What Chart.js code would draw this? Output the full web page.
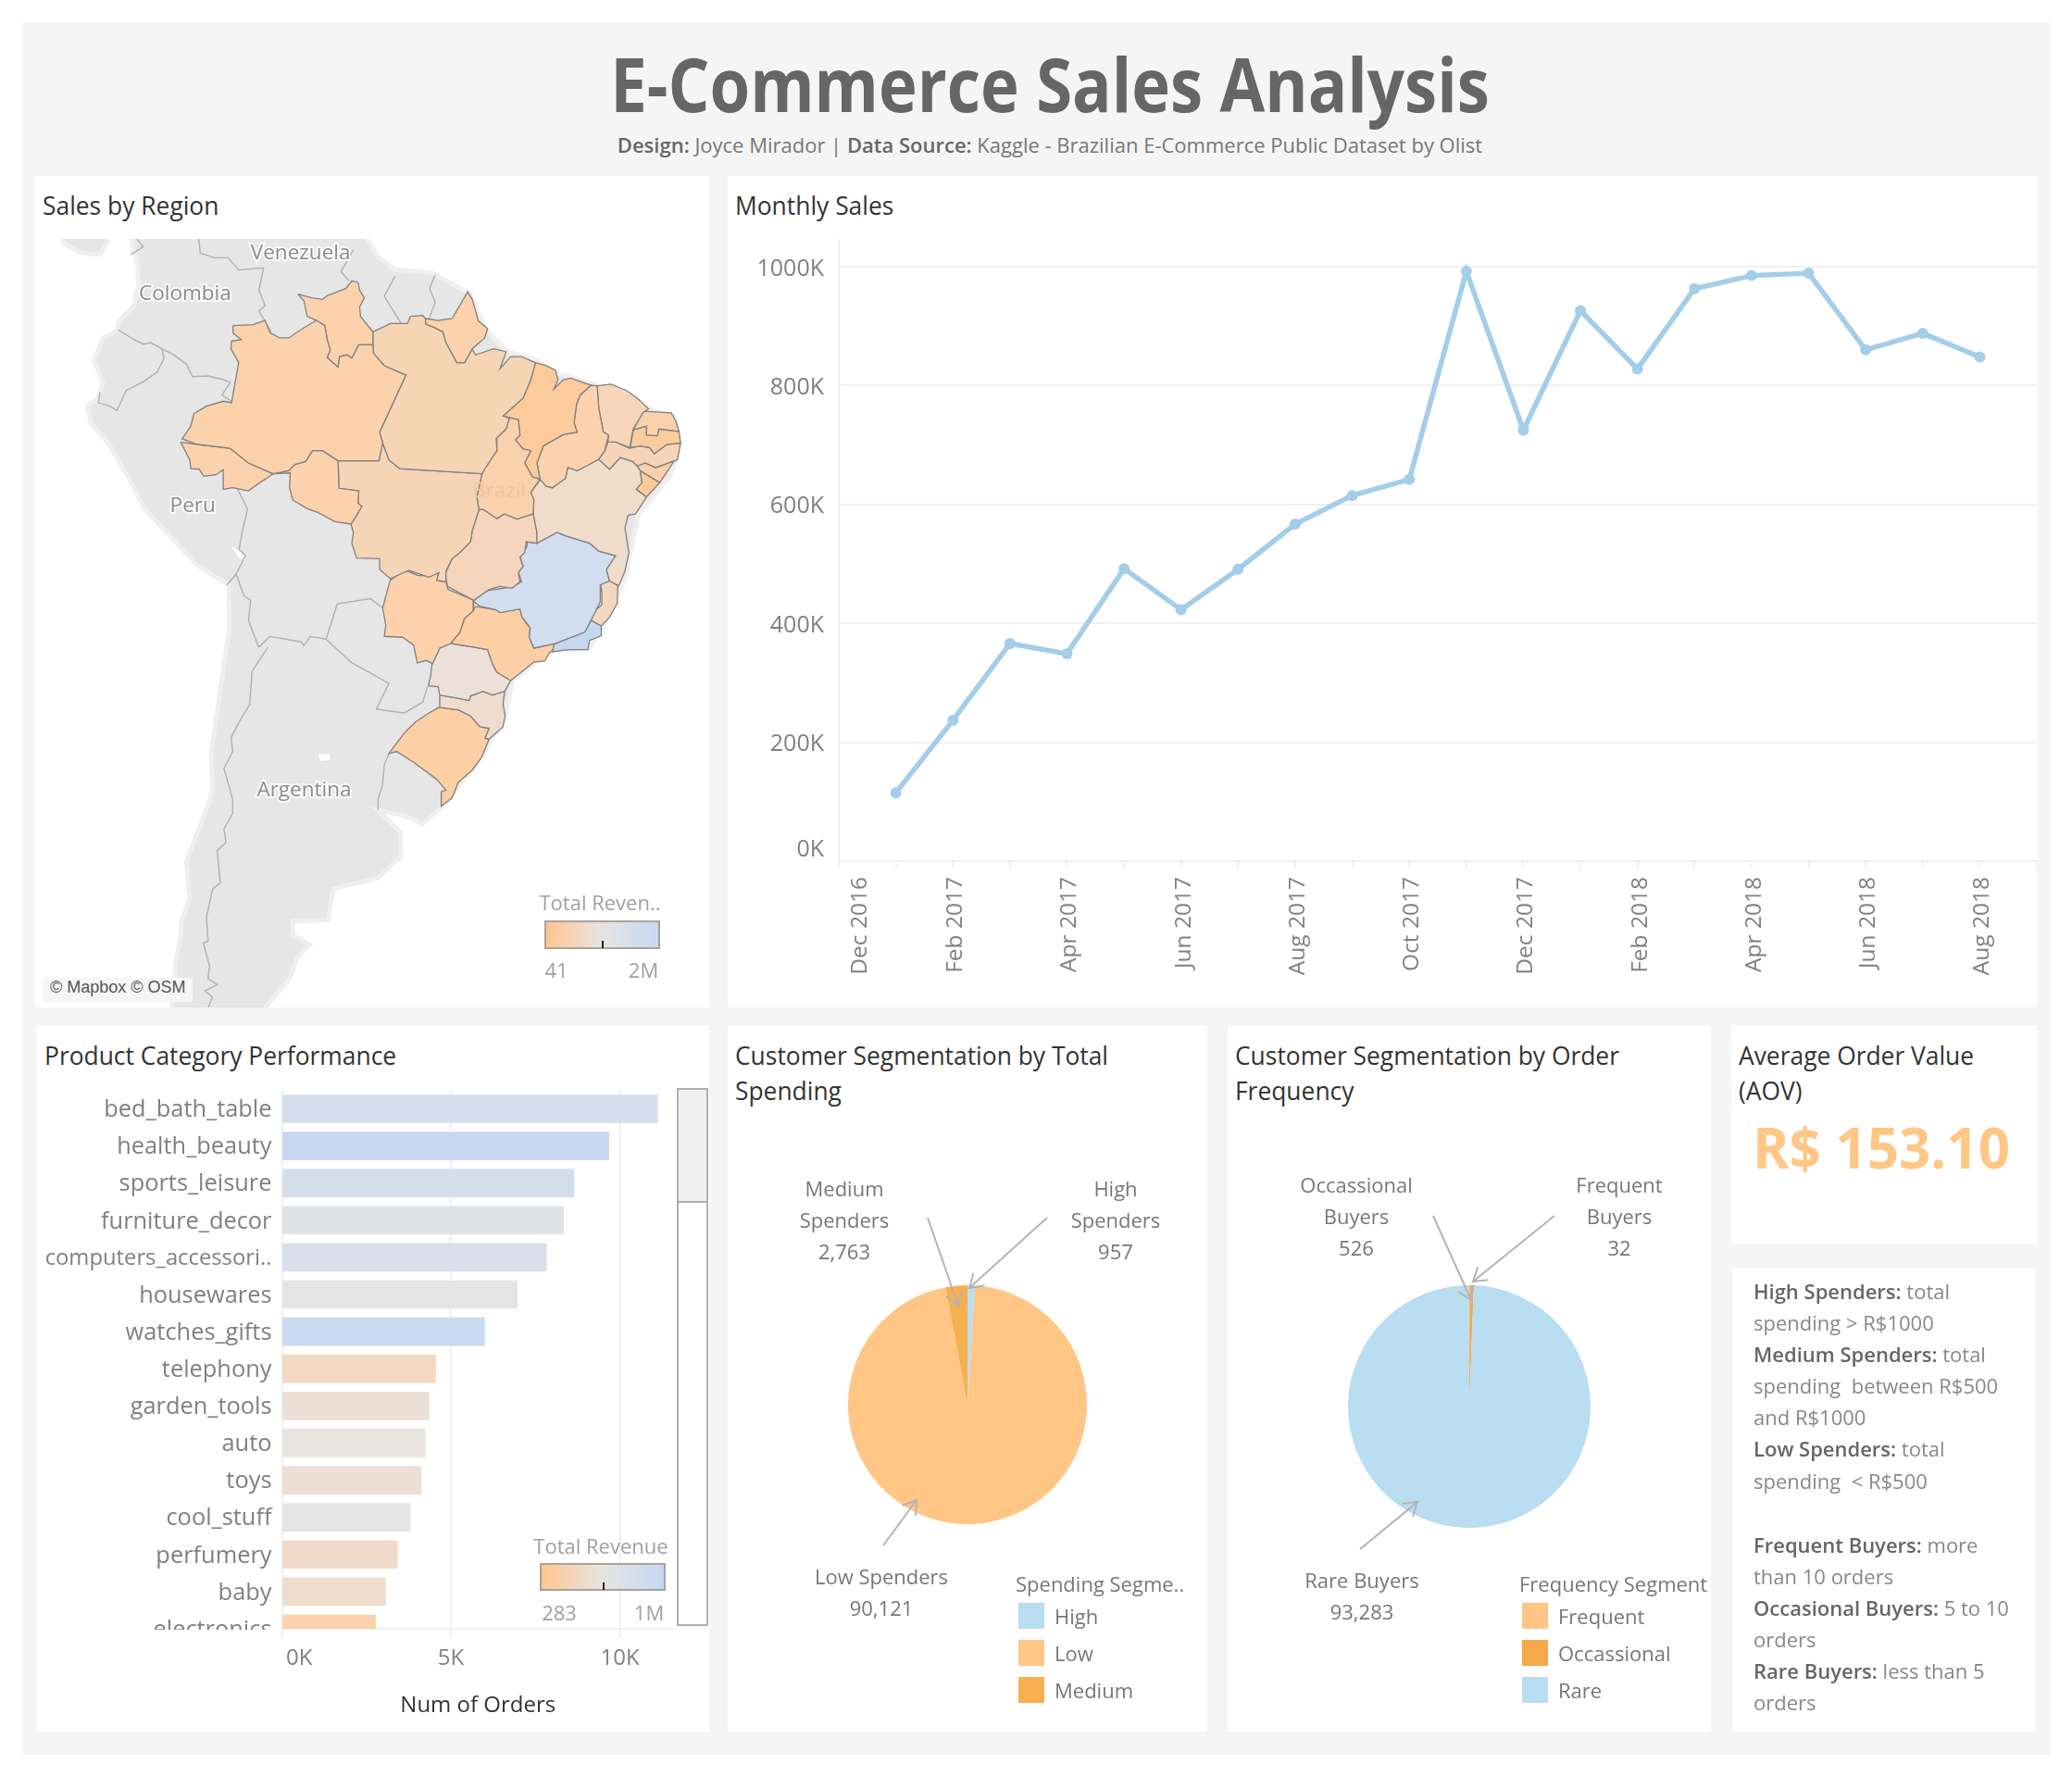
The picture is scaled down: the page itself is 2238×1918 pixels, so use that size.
<!DOCTYPE html>
<html>
<head>
<meta charset="utf-8">
<title>E-Commerce Sales Analysis</title>
<script src="https://cdn.jsdelivr.net/npm/chart.js@4.4.0/dist/chart.umd.min.js"></script>
<style>
  html, body { margin: 0; padding: 0; background: #fff; }
  body { width: 2238px; height: 1918px; position: relative; overflow: hidden; font-family: "Open Sans", sans-serif; color: #777; }
  .abs { position: absolute; }
  .bg { position: absolute; left: 24px; top: 24px; width: 2191px; height: 1871px; background: #f5f5f5; }
  .panel { position: absolute; background: #fff; }
  .ptitle { position: absolute; font-size: 26.4px; line-height: 38px; color: #333; white-space: nowrap; }
  .c { position: absolute; transform: translate(-50%, -50%); white-space: nowrap; text-align: center; }
  .l { position: absolute; transform: translateY(-50%); white-space: nowrap; }
  canvas { position: absolute; display: block; }
  .ann { font-size: 22px; line-height: 34px; color: #777; }
  .leg { font-size: 22px; color: #777; }
  .sw { position: absolute; width: 28px; height: 28px; }
  .ramp { position: absolute; border: 2px solid #a8a29a; box-sizing: border-box; background: linear-gradient(90deg, #ffc58f 0%, #fdcba0 10%, #e6e3e0 48%, #e2e3e5 55%, #c6d8f1 100%); }
  .ramp i { position: absolute; bottom: -1px; width: 2px; height: 8px; background: #222; }
  .grey { color: #a0a0a0; font-size: 22px; }
  #notes div { position: absolute; left: 1894px; font-size: 22px; color: #888; white-space: pre; transform: translateY(-50%); }
  #notes b { color: #666; font-weight: 600; }
</style>
</head>
<body>
<div class="bg"></div>
<div class="c" style="left:1134px;top:89px;font-size:80px;font-weight:700;color:#666;transform:translate(-50%,-50%) scaleX(0.883);">E-Commerce Sales Analysis</div>
<div class="c" style="left:1134px;top:156px;font-size:22px;color:#777;"><b style="color:#666;font-weight:600;">Design:</b> Joyce Mirador | <b style="color:#666;font-weight:600;">Data Source:</b> Kaggle - Brazilian E-Commerce Public Dataset by Olist</div>

<div class="panel" style="left:38px;top:190px;width:728px;height:898px;"></div>
<div class="panel" style="left:786px;top:190px;width:1414px;height:898px;"></div>
<div class="panel" style="left:40px;top:1108px;width:726px;height:762px;"></div>
<div class="panel" style="left:786px;top:1108px;width:518px;height:762px;"></div>
<div class="panel" style="left:1326px;top:1108px;width:522px;height:762px;"></div>
<div class="panel" style="left:1870px;top:1108px;width:330px;height:235px;"></div>
<div class="panel" style="left:1871px;top:1369px;width:327px;height:501px;"></div>

<div class="ptitle" style="left:46px;top:203px;">Sales by Region</div>
<div class="ptitle" style="left:794px;top:203px;">Monthly Sales</div>
<div class="ptitle" style="left:48px;top:1121px;">Product Category Performance</div>
<div class="ptitle" style="left:794px;top:1121px;">Customer Segmentation by Total<br>Spending</div>
<div class="ptitle" style="left:1334px;top:1121px;">Customer Segmentation by Order<br>Frequency</div>
<div class="ptitle" style="left:1878px;top:1121px;">Average Order Value<br>(AOV)</div>

<canvas id="mapChart" width="728" height="830" style="left:38px;top:258px;"></canvas>
<div class="l" style="left:46px;top:1069px;height:26px;line-height:26px;padding:0 8px;width:146px;background:#f6f6f6;font:18px 'Liberation Sans',sans-serif;color:#555;">© Mapbox © OSM</div>
<div class="c grey" style="left:648px;top:974px;">Total Reven..</div>
<div class="ramp" style="left:588px;top:994px;width:125px;height:31px;"><i style="left:60px"></i></div>
<div class="c grey" style="left:601px;top:1047px;">41</div>
<div class="c grey" style="left:695px;top:1047px;">2M</div>

<canvas id="lineChart" width="1414" height="830" style="left:786px;top:258px;"></canvas>

<canvas id="barChart" width="688" height="680" style="left:40px;top:1177px;"></canvas>
<div class="c grey" style="left:649px;top:1669px;">Total Revenue</div>
<div class="ramp" style="left:583px;top:1688px;width:136px;height:30px;"><i style="left:66px"></i></div>
<div class="c grey" style="left:604px;top:1741px;">283</div>
<div class="c grey" style="left:701px;top:1741px;">1M</div>
<div class="abs" style="left:731px;top:1175px;width:34px;height:581px;border:2px solid #b0b0b0;box-sizing:border-box;background:#fff;">
  <div style="height:120px;background:#f0f0f0;border-bottom:2px solid #b0b0b0;"></div>
</div>

<canvas id="pieSpend" width="258" height="258" style="left:916px;top:1388px;"></canvas>
<canvas id="pieFreq" width="262" height="262" style="left:1456px;top:1388px;"></canvas>

<svg class="abs" style="left:0;top:0;" width="2238" height="1918">
  <defs>
    <marker id="arr" markerUnits="userSpaceOnUse" markerWidth="24" markerHeight="24" refX="20" refY="12" orient="auto">
      <path d="M6 3 L20 12 L6 21" fill="none" stroke="#b4b4b4" stroke-width="2"/>
    </marker>
  </defs>
  <g stroke="#b4b4b4" stroke-width="2" fill="none">
    <line x1="1002" y1="1315" x2="1035" y2="1410" marker-end="url(#arr)"/>
    <line x1="1131" y1="1315" x2="1047" y2="1391" marker-end="url(#arr)"/>
    <line x1="954" y1="1669" x2="990" y2="1620" marker-end="url(#arr)"/>
    <line x1="1548" y1="1313" x2="1589" y2="1404" marker-end="url(#arr)"/>
    <line x1="1679" y1="1313" x2="1591" y2="1384" marker-end="url(#arr)"/>
    <line x1="1469" y1="1673" x2="1531" y2="1622" marker-end="url(#arr)"/>
  </g>
</svg>

<div class="c ann" style="left:912px;top:1317px;">Medium<br>Spenders<br>2,763</div>
<div class="c ann" style="left:1205px;top:1317px;">High<br>Spenders<br>957</div>
<div class="c ann" style="left:952px;top:1719px;">Low Spenders<br>90,121</div>
<div class="c ann" style="left:1465px;top:1313px;">Occassional<br>Buyers<br>526</div>
<div class="c ann" style="left:1749px;top:1313px;">Frequent<br>Buyers<br>32</div>
<div class="c ann" style="left:1471px;top:1723px;">Rare Buyers<br>93,283</div>

<div class="l leg" style="left:1097px;top:1710px;">Spending Segme..</div>
<div class="sw" style="left:1100px;top:1731px;background:#b9ddf1;"></div><div class="l leg" style="left:1139px;top:1745px;">High</div>
<div class="sw" style="left:1100px;top:1771px;background:#ffc685;"></div><div class="l leg" style="left:1139px;top:1785px;">Low</div>
<div class="sw" style="left:1100px;top:1811px;background:#f7b04f;"></div><div class="l leg" style="left:1139px;top:1825px;">Medium</div>

<div class="l leg" style="left:1641px;top:1710px;">Frequency Segment</div>
<div class="sw" style="left:1644px;top:1731px;background:#ffc685;"></div><div class="l leg" style="left:1683px;top:1745px;">Frequent</div>
<div class="sw" style="left:1644px;top:1771px;background:#f7a84b;"></div><div class="l leg" style="left:1683px;top:1785px;">Occassional</div>
<div class="sw" style="left:1644px;top:1811px;background:#b9ddf1;"></div><div class="l leg" style="left:1683px;top:1825px;">Rare</div>

<div class="c" style="left:2032px;top:1239px;font-size:60px;font-weight:700;color:#ffc685;">R$ 153.10</div>

<div id="notes">
  <div style="top:1394px"><b>High Spenders:</b> total</div>
  <div style="top:1428px">spending &gt; R$1000</div>
  <div style="top:1462px"><b>Medium Spenders:</b> total</div>
  <div style="top:1496px">spending  between R$500</div>
  <div style="top:1530px">and R$1000</div>
  <div style="top:1564px"><b>Low Spenders:</b> total</div>
  <div style="top:1599px">spending  &lt; R$500</div>
  <div style="top:1668px"><b>Frequent Buyers:</b> more</div>
  <div style="top:1702px">than 10 orders</div>
  <div style="top:1736px"><b>Occasional Buyers:</b> 5 to 10</div>
  <div style="top:1770px">orders</div>
  <div style="top:1804px"><b>Rare Buyers:</b> less than 5</div>
  <div style="top:1838px">orders</div>
</div>

<script>
// monthly sales
const months = ['Dec 2016','Jan 2017','Feb 2017','Mar 2017','Apr 2017','May 2017','Jun 2017','Jul 2017','Aug 2017','Sep 2017','Oct 2017','Nov 2017','Dec 2017','Jan 2018','Feb 2018','Mar 2018','Apr 2018','May 2018','Jun 2018','Jul 2018','Aug 2018','Sep 2018'];
const monthlySales = [null,115,237,366,349,492,423,491,567,615,642,992,725,926,828,963,985,989,860,888,848,null];

// product categories
const categories = ['bed_bath_table','health_beauty','sports_leisure','furniture_decor','computers_accessori..','housewares','watches_gifts','telephony','garden_tools','auto','toys','cool_stuff','perfumery','baby','electronics'];
const numOrders = [11115,9670,8641,8334,7827,6964,5991,4545,4347,4235,4117,3796,3419,3065,2767];
const categoryColors = ['#d3ddee','#c5d7f1','#d4deeb','#e0e3e6','#d9e0eb','#e4e4e4','#c8d9f1','#f3d8c2','#ecdfd5','#e7e3df','#ecdfd5','#e4e4e4','#f2dacb','#f0dccc','#fbd2ab'];

// segments
const spendingSegments = ['High','Low','Medium'];
const spendingCounts = [957,90121,2763];
const frequencySegments = ['Frequent','Occassional','Rare'];
const frequencyCounts = [32,526,93283];

// map rings: [longitude, mercator northing] in degrees
const landMain = [[-78.17,9.5],[-60,9.5],[-58.58,7.19],[-57.17,6.13],[-54.35,5.91],[-52.06,4.64],[-51.36,4.34],[-50.13,1.45],[-48.37,-0.26],[-46.25,-0.89],[-44.49,-1.96],[-41.68,-2.81],[-38.15,-4.51],[-35.34,-5.36],[-34.81,-7.49],[-35.69,-10.04],[-38.15,-13.02],[-39.21,-18.13],[-40.97,-21.96],[-42.03,-23.57],[-44.85,-23.66],[-48.01,-26],[-48.54,-28.77],[-49.77,-30.89],[-51.54,-33.45],[-53.47,-35.91],[-55.06,-37.28],[-56.46,-36.64],[-58.58,-36.21],[-56.82,-37.91],[-56.75,-39.83],[-58.58,-41.53],[-62.1,-42.38],[-62.45,-44.8],[-65.23,-44.92],[-65.23,-46.01],[-63.9,-46.74],[-64.87,-47.7],[-65.47,-49.4],[-67.41,-51.7],[-67.41,-52.5],[-74.79,-52.5],[-74.42,-48.19],[-74.06,-46.25],[-73.94,-44.8],[-73.33,-43.11],[-73.58,-40.21],[-72.37,-37.06],[-71.52,-34.88],[-71.64,-31.74],[-71.28,-29.32],[-70.8,-26],[-70.2,-21.96],[-70.27,-18.55],[-72.66,-17.06],[-76.84,-12.63],[-77.93,-10.45],[-79.63,-7.55],[-81.08,-5.86],[-81.32,-4.53],[-80.59,-4.04],[-80.11,-2.71],[-80.83,-1.02],[-80.11,0.8],[-79.02,1.4],[-78.9,2.13],[-77.69,3.33],[-77.33,5.03],[-77.45,6.72]];
const landPanama = [[-83.74,9.5],[-83.13,8.17],[-81.8,7.45],[-80.35,7.33],[-79.75,8.41],[-80.5,9.5]];
const lakeTiticaca = [[-70.1,-15.5],[-69.4,-15.9],[-68.9,-16.6],[-69.4,-16.5]];
const saltFlat = [[-63.2,-31.85],[-62.4,-31.8],[-62.3,-32.3],[-63.1,-32.35]];

const borderPanCol = [[-77.45,8.56],[-76.96,7.93],[-77.93,7.33]];
const borderColVen = [[-72.61,8.56],[-72.49,7.45],[-71.4,7.08],[-70.31,7.08],[-69.47,6.12],[-67.53,6.29],[-67.89,4.54],[-67.41,3.33],[-67.89,2.9],[-66.92,1.28]];
const borderVenGuy = [[-60.49,7.69],[-61.45,6],[-60.85,5.27]];
const borderGuySur = [[-57.22,5.63],[-58.07,4.06],[-56.74,1.93]];
const borderSurGuf = [[-54.07,5.76],[-54.51,4.67],[-54.07,3.58],[-54.56,2.32]];
const borderColPer = [[-78.95,1.45],[-77.69,0.67],[-76.96,0.31],[-76.36,0.43],[-75.51,-0.05],[-74.54,-0.54],[-73.58,-1.26],[-73.09,-2.23],[-71.88,-2.18],[-70.67,-2.47],[-70.14,-2.67],[-70.79,-3.68],[-70.07,-4.16]];
const borderEcuPer = [[-75.51,-0.05],[-75.32,-0.78],[-75.87,-1.87],[-76.96,-2.64],[-78.29,-3.32],[-79.02,-4.89],[-79.62,-4.53],[-80.47,-4.29],[-80.35,-3.44]];
const borderPerBol = [[-69.56,-11.06],[-68.78,-12.63],[-69.19,-14.32],[-69.44,-15.77],[-68.95,-16.26],[-69.68,-17.71],[-70.4,-18.56]];
const borderBolChi = [[-69.68,-17.71],[-69.07,-19.4],[-68.54,-19.77],[-68.71,-21.34],[-67.91,-23.45]];
const borderBolArg = [[-67.91,-23.45],[-67.03,-22.6],[-64.56,-23.02],[-64.39,-23.32],[-63.86,-22.6],[-62.63,-22.81]];
const borderBolPar = [[-62.63,-22.81],[-61.75,-20.04],[-59.16,-19.64],[-58.19,-20.36]];
const borderParArg = [[-62.63,-22.81],[-60.61,-24.67],[-59.4,-25.32],[-57.71,-26.29],[-58.07,-27.02],[-58.68,-28.3],[-56.5,-28.59],[-55.05,-27.74],[-54.68,-26.53]];
const borderChiArg = [[-67.2,-23.45],[-68.44,-25.36],[-68.61,-27.91],[-69.46,-29.32],[-70.07,-30.53],[-69.95,-31.62],[-70.63,-32.95],[-69.95,-35.37],[-69.95,-36.46],[-70.63,-37.67],[-70.48,-38.75],[-71.16,-39.36],[-70.92,-41.9],[-71.52,-42.38],[-72,-44.56],[-71.88,-46.5],[-72.25,-46.62],[-71.76,-48.43],[-71.88,-49.4],[-71.16,-49.88],[-72.13,-50.37],[-71.52,-50.85],[-71.88,-51.7]];
const borderUryArg = [[-57.71,-31.78],[-58.07,-32.7],[-58.19,-34.15],[-58.55,-35.36],[-58.55,-36.2]];

const stateAM = [[-69.92,1.76],[-68.35,1.84],[-67.43,2.17],[-67.02,1.21],[-66.29,0.8],[-65.56,0.8],[-64.48,1.52],[-63.39,2.17],[-62.73,1.76],[-62.54,0.67],[-62.3,-0.17],[-62.54,-0.73],[-61.69,-1.5],[-61.57,-0.66],[-60.97,-0.53],[-60.61,-0.78],[-60.07,0.26],[-58.96,0.26],[-58.91,-0.41],[-58.07,-1.38],[-56.37,-2.11],[-58.43,-6.58],[-58.19,-7.43],[-58.48,-8.83],[-61.69,-8.83],[-62.9,-8.03],[-63.7,-8.03],[-64.23,-8.88],[-65.08,-9.12],[-65.57,-9.61],[-66.77,-9.85],[-68.71,-9],[-70.16,-7.84],[-72.7,-7.55],[-73.91,-7.11],[-73.23,-6.1],[-72.99,-5.13],[-71.98,-4.53],[-70.65,-4.16],[-70.04,-4.28],[-69.48,-1.14],[-70.09,-0.05],[-70.04,0.55],[-69.27,0.67],[-69.92,1.16]];
const stateAC = [[-74.03,-7.36],[-72.7,-7.55],[-70.16,-7.84],[-68.71,-9],[-66.77,-9.85],[-67.86,-10.57],[-68.71,-11.18],[-69.92,-10.94],[-70.69,-11.06],[-70.69,-9.53],[-71.25,-9.92],[-72.22,-10.04],[-72.58,-9.49],[-73.23,-9.44],[-73.31,-8.76]];
const stateRO = [[-66.77,-9.85],[-65.57,-9.61],[-65.08,-9.12],[-64.23,-8.88],[-63.7,-8.03],[-62.9,-8.03],[-61.69,-8.83],[-61.62,-10.98],[-60.07,-11.18],[-60.12,-12.15],[-59.83,-12.39],[-60.24,-13.11],[-60.68,-13.79],[-61.94,-13.6],[-63.27,-12.87],[-64.11,-12.58],[-65.25,-11.9],[-65.49,-10.94],[-65.44,-9.78]];
const stateRR = [[-64.84,4.23],[-63.75,3.94],[-62.9,3.82],[-62.54,4.11],[-61.09,4.67],[-60.61,5.27],[-60.12,5.15],[-60,4.55],[-59.64,3.94],[-60,3.22],[-59.93,2.49],[-58.96,1.28],[-58.96,0.26],[-60.07,0.26],[-60.61,-0.78],[-60.97,-0.53],[-61.57,-0.66],[-61.69,-1.5],[-62.54,-0.73],[-62.3,-0.17],[-62.54,0.67],[-62.73,1.76],[-63.39,2.17],[-64.11,2.49],[-64.36,3.7]];
const stateAP = [[-54.85,2.32],[-53.83,2.17],[-52.74,2.32],[-51.53,4.42],[-51.17,3.82],[-50.69,2.13],[-49.96,1.52],[-50.2,0.8],[-51.17,-0.05],[-51.78,-1.14],[-52.38,-1.14],[-53.23,0.43],[-53.47,1.28],[-54.2,1.64],[-54.8,1.88]];
const statePA = [[-58.96,1.28],[-57.58,1.93],[-56.25,1.93],[-56.01,2.49],[-55.04,2.56],[-54.85,2.32],[-54.8,1.88],[-54.2,1.64],[-53.47,1.28],[-53.23,0.43],[-52.38,-1.14],[-51.78,-1.14],[-51.17,-0.05],[-50.93,-0.53],[-49.48,-0.05],[-48.51,-0.29],[-49,-1.62],[-48.15,-0.66],[-47.31,-0.66],[-46.22,-1.14],[-46.58,-2.47],[-47.19,-3.92],[-48.76,-5.32],[-48.27,-5.49],[-48.52,-6.34],[-49.29,-7.07],[-49.24,-8.03],[-50.21,-9.49],[-50.4,-9.85],[-56.86,-9.44],[-57.7,-8.76],[-58.19,-7.43],[-58.43,-6.58],[-56.37,-2.11],[-58.07,-1.38],[-58.91,-0.41],[-58.96,0.26]];
const stateMT = [[-61.69,-8.83],[-58.48,-8.83],[-58.19,-7.43],[-57.7,-8.76],[-56.86,-9.44],[-50.4,-9.85],[-50.81,-11.66],[-50.65,-12.68],[-51.18,-14.32],[-51.3,-15.17],[-52.27,-16.14],[-52.75,-16.5],[-53.23,-17.47],[-53.23,-18.31],[-53.96,-18.19],[-53.79,-17.59],[-54.56,-17.95],[-56.14,-17.42],[-57.59,-18.07],[-58.43,-17.35],[-58.43,-16.5],[-60.24,-16.45],[-60.61,-15.29],[-60.49,-14.44],[-60.68,-13.79],[-60.24,-13.11],[-59.83,-12.39],[-60.12,-12.15],[-60.07,-11.18],[-61.62,-10.98]];
const stateTO = [[-48.76,-5.32],[-47.55,-5.61],[-47.43,-6.82],[-47.79,-7.19],[-47.19,-7.91],[-46.58,-8.03],[-47.06,-9],[-46.46,-10.09],[-45.86,-10.28],[-46.58,-11.3],[-46.34,-11.9],[-46.39,-12.99],[-47.67,-13.4],[-48.64,-12.99],[-49.24,-13.35],[-50.33,-12.63],[-50.65,-12.68],[-50.81,-11.66],[-50.4,-9.85],[-50.21,-9.49],[-49.24,-8.03],[-49.29,-7.07],[-48.52,-6.34],[-48.27,-5.49]];
const stateMA = [[-46.22,-1.14],[-45.37,-1.38],[-44.65,-1.74],[-44.45,-2.47],[-44.77,-3.2],[-44.04,-2.47],[-43.44,-2.35],[-41.86,-2.91],[-42.71,-3.68],[-43,-4.41],[-43.19,-5.86],[-42.95,-6.58],[-44.04,-6.78],[-45.61,-7.67],[-46.1,-9],[-45.86,-10.28],[-46.46,-10.09],[-47.06,-9],[-46.58,-8.03],[-47.19,-7.91],[-47.79,-7.19],[-47.43,-6.82],[-47.55,-5.61],[-48.76,-5.32],[-47.19,-3.92],[-46.58,-2.47]];
const statePI = [[-41.86,-2.91],[-41.38,-2.95],[-41.26,-4.65],[-40.9,-6.58],[-40.49,-6.82],[-40.78,-8.03],[-41.26,-8.71],[-42.23,-9.24],[-42.95,-9.61],[-43.68,-9.36],[-43.87,-10.21],[-44.89,-10.94],[-45.37,-10.82],[-45.86,-10.28],[-46.1,-9],[-45.61,-7.67],[-44.04,-6.78],[-42.95,-6.58],[-43.19,-5.86],[-43,-4.41],[-42.71,-3.68]];
const stateCE = [[-41.38,-2.95],[-40.29,-2.83],[-39.08,-3.32],[-38.24,-3.92],[-37.34,-4.77],[-37.75,-5.01],[-38.55,-6.34],[-38.84,-7.79],[-39.93,-7.36],[-40.53,-7.36],[-40.49,-6.82],[-40.9,-6.58],[-41.26,-4.65]];
const stateRN = [[-37.75,-4.94],[-35.57,-5.08],[-35.21,-5.73],[-34.97,-6.53],[-36.54,-6.34],[-36.66,-6.87],[-37.51,-6.82],[-37.51,-6.1],[-38.55,-6.39]];
const statePB = [[-38.55,-6.39],[-37.51,-6.1],[-37.51,-6.82],[-36.66,-6.87],[-36.54,-6.34],[-34.97,-6.53],[-34.85,-7.43],[-35.94,-7.55],[-36.9,-8.28],[-37.27,-7.79],[-38,-7.67],[-38.79,-7.79]];
const statePE = [[-40.53,-7.36],[-39.93,-7.36],[-38.84,-7.84],[-38,-7.67],[-37.27,-7.79],[-36.9,-8.28],[-35.94,-7.55],[-34.85,-7.43],[-35.09,-8.76],[-35.33,-8.83],[-36.78,-9.36],[-37.63,-9],[-38.24,-9.24],[-38.6,-8.88],[-39.57,-8.57],[-40.41,-9.49],[-41.26,-8.71],[-40.78,-8.03]];
const stateAL = [[-38.24,-9.24],[-37.63,-9],[-36.78,-9.36],[-35.33,-8.83],[-36.47,-10.53],[-38,-9.61]];
const stateSE = [[-38,-9.61],[-36.47,-10.53],[-37.51,-11.66],[-38.31,-11.06],[-37.87,-10.57]];
const stateBA = [[-45.81,-10.28],[-45.37,-10.82],[-44.89,-10.94],[-43.87,-10.21],[-43.68,-9.36],[-42.95,-9.61],[-42.23,-9.24],[-41.26,-8.71],[-40.41,-9.49],[-39.57,-8.57],[-38.6,-8.88],[-38.24,-9.24],[-38,-9.61],[-37.87,-10.57],[-38.31,-11.06],[-37.51,-11.66],[-38.36,-12.99],[-38.96,-13.11],[-39.2,-14.08],[-38.89,-16.02],[-39.2,-17.47],[-39.69,-18.63],[-40.41,-18.24],[-40.65,-17.35],[-39.93,-16.26],[-41.26,-15.9],[-41.98,-15.29],[-43.92,-14.69],[-44.52,-14.44],[-46.1,-15.29],[-46.1,-14.44],[-46.39,-12.99],[-46.34,-11.9],[-46.58,-11.3]];
const stateGO = [[-50.65,-12.68],[-50.33,-12.63],[-49.24,-13.35],[-48.64,-12.99],[-47.67,-13.4],[-46.39,-12.99],[-46.1,-14.44],[-46.1,-15.29],[-46.94,-15.17],[-47.06,-16.02],[-47.43,-16.38],[-47.19,-17.11],[-47.55,-17.59],[-47.43,-18.31],[-48.03,-18.8],[-49,-18.68],[-49.85,-18.92],[-51.06,-19.77],[-53.11,-18.68],[-53.3,-17.71],[-52.75,-16.5],[-52.27,-16.14],[-51.3,-15.17],[-51.18,-14.32]];
const stateDF = [[-48.27,-15.7],[-47.43,-15.7],[-47.43,-16.26],[-48.35,-16.26]];
const stateMG = [[-46.1,-15.29],[-44.52,-14.44],[-43.92,-14.69],[-41.98,-15.29],[-41.26,-15.9],[-39.93,-16.26],[-40.65,-17.35],[-40.41,-18.24],[-41.14,-18.56],[-41.14,-19.89],[-41.86,-21.33],[-42.35,-22.25],[-44.64,-23.15],[-46.34,-23.51],[-46.7,-22.66],[-46.63,-21.94],[-47.26,-21.09],[-47.43,-20.44],[-48.99,-20.73],[-49.36,-20.49],[-50.57,-20.24],[-51.1,-19.83],[-50.21,-19.03],[-49.36,-18.91],[-48.03,-18.72],[-47.31,-18.31],[-47.55,-17.58],[-47.19,-17.1],[-47.43,-16.25],[-46.94,-15.65],[-46.82,-15.16]];
const stateES = [[-41.14,-18.31],[-40.41,-18.19],[-39.76,-18.62],[-39.81,-20],[-40.41,-21.09],[-41.06,-21.77],[-41.86,-21.33],[-41.62,-20.61],[-41.01,-20.12],[-41.01,-19.16]];
const stateRJ = [[-41.86,-21.33],[-41.06,-21.77],[-41.06,-22.54],[-41.98,-22.91],[-42.1,-23.63],[-43.68,-23.63],[-44.89,-23.8],[-44.77,-23.27],[-44.64,-23.15],[-42.35,-22.25]];
const stateSP = [[-50.93,-20.24],[-49.36,-20.49],[-48.99,-20.73],[-47.43,-20.44],[-47.26,-21.09],[-46.63,-21.94],[-46.7,-22.66],[-46.34,-23.51],[-44.64,-23.15],[-44.28,-23.32],[-45.13,-23.87],[-45.49,-24.53],[-46.34,-24.6],[-48.15,-26.05],[-49.24,-25.4],[-49.6,-24.72],[-49.97,-23.63],[-51.3,-23.39],[-52.87,-23.15],[-52.14,-22.3],[-51.78,-21.21],[-51.1,-20.61]];
const stateMS = [[-57.59,-18.19],[-56.86,-17.66],[-56.26,-17.46],[-55.41,-17.83],[-54.68,-17.83],[-53.89,-17.51],[-53.79,-18.24],[-53.23,-18.31],[-53.06,-18.91],[-51.05,-19.76],[-51.1,-20.61],[-51.78,-21.21],[-52.14,-22.3],[-52.87,-23.15],[-53.72,-23.51],[-54.27,-24.72],[-54.8,-24.48],[-55.48,-24.67],[-55.77,-23.27],[-56.62,-22.66],[-58.07,-22.59],[-57.95,-21.7],[-58.19,-20.36],[-57.71,-18.55]];
const statePR = [[-52.87,-23.15],[-51.3,-23.39],[-49.97,-23.63],[-49.6,-24.72],[-49.24,-25.4],[-48.15,-26.05],[-48.63,-26.9],[-49.6,-27.19],[-50.33,-26.9],[-51.3,-27.26],[-51.42,-27.62],[-52.38,-27.43],[-53.72,-27.19],[-53.84,-26.53],[-54.61,-26.46],[-54.44,-25.69],[-54.32,-24.72],[-53.72,-23.51]];
const stateSC = [[-53.72,-27.19],[-52.38,-27.43],[-51.42,-27.62],[-51.3,-27.26],[-50.33,-26.9],[-49.6,-27.19],[-48.63,-26.9],[-48.76,-27.86],[-48.59,-28.83],[-48.76,-29.68],[-49.85,-30.65],[-50.16,-30.57],[-49.85,-29.8],[-50.57,-29.68],[-51.3,-28.83],[-52.26,-28.35],[-53.79,-28.15]];
const stateRS = [[-53.79,-28.15],[-52.26,-28.35],[-51.3,-28.83],[-50.57,-29.68],[-49.85,-29.8],[-50.16,-30.57],[-49.85,-30.65],[-50.45,-32.1],[-51.18,-33.07],[-52.26,-34.03],[-52.75,-35.24],[-53.6,-35.9],[-53.6,-34.76],[-53.23,-34.64],[-53.96,-33.79],[-55.77,-32.46],[-57.1,-31.61],[-57.71,-31.78],[-56.5,-30.16],[-55.65,-29.32],[-54.56,-28.59]];

const countryNames = ['Venezuela','Colombia','Peru','Argentina'];
const countryLabelAt = [[-64.63,7.43],[-73.68,4.2],[-73.08,-12.36],[-64.35,-34.64]];

const borderLines = [borderPanCol,borderColVen,borderVenGuy,borderGuySur,borderSurGuf,borderColPer,borderEcuPer,borderPerBol,borderBolChi,borderBolArg,borderBolPar,borderParArg,borderChiArg,borderUryArg];
const stateRings = [stateAM,stateAC,stateRO,stateRR,stateAP,statePA,stateMT,stateTO,stateMA,statePI,stateCE,stateRN,statePB,statePE,stateAL,stateSE,stateBA,stateGO,stateDF,stateMG,stateES,stateRJ,stateSP,stateMS,statePR,stateSC,stateRS];
const stateColors = ['#fbd2ab','#fbd2ab','#fbd2ab','#fbd2ab','#fbd2ab','#f6d5b5','#f6d4b6','#f9d1aa','#fdcb9b','#fad2ad','#f7d5b8','#f9d2ad','#fdcc9e','#f7d4b7','#f9d0a9','#fdca98','#f0dccb','#f5d6bc','#f5d6bc','#d2deef','#f4d7bf','#c6d8f0','#fdcfa4','#fcd1ab','#ece0d8','#efdccf','#fdcfa4'];

const FONT = '"Open Sans", sans-serif';
const TICK = '#808080';
const GRID = '#f0f0f0';

Chart.defaults.font.family = FONT;
Chart.defaults.animation = false;
Chart.defaults.responsive = false;
Chart.defaults.plugins.legend.display = false;
Chart.defaults.plugins.tooltip.enabled = false;

// ---------- map ----------
function ringSet(ring, fillColor, line, width) {
  return {
    data: ring.concat([ring[0]]).map(p => ({ x: p[0], y: p[1] })),
    showLine: true, fill: 'shape', backgroundColor: fillColor,
    borderColor: line, borderWidth: width, pointRadius: 0, tension: 0
  };
}
function lineSet(pts) {
  return {
    data: pts.map(p => ({ x: p[0], y: p[1] })),
    showLine: true, fill: false, borderColor: '#b0b0b0', borderWidth: 1.4, pointRadius: 0, tension: 0
  };
}
// first dataset is painted last, states stay on top of the land
const mapSets = []
  .concat(stateRings.map((r, i) => ringSet(r, stateColors[i], '#808080', 1.3)))
  .concat(borderLines.map(lineSet))
  .concat([ringSet(lakeTiticaca, '#ffffff', '#ffffff', 0), ringSet(saltFlat, '#ffffff', '#ffffff', 0)])
  .concat([ringSet(landPanama, '#e6e6e6', '#efefef', 5), ringSet(landMain, '#e6e6e6', '#efefef', 5)]);

const mapLabels = {
  id: 'mapLabels',
  afterDatasetsDraw(chart) {
    const { ctx, scales } = chart;
    ctx.save();
    ctx.font = '22.5px ' + FONT;
    ctx.textAlign = 'center';
    ctx.textBaseline = 'middle';
    countryNames.forEach((n, i) => {
      const x = scales.x.getPixelForValue(countryLabelAt[i][0]);
      const y = scales.y.getPixelForValue(countryLabelAt[i][1]);
      ctx.lineWidth = 4;
      ctx.strokeStyle = 'rgba(255,255,255,0.75)';
      ctx.strokeText(n, x, y);
      ctx.fillStyle = '#8c8c8c';
      ctx.fillText(n, x, y);
    });
    ctx.fillStyle = '#efc6a4';
    ctx.fillText('Brazil', scales.x.getPixelForValue(-49.07), scales.y.getPixelForValue(-11.23));
    ctx.restore();
  }
};

new Chart(document.getElementById('mapChart'), {
  type: 'scatter',
  data: { datasets: mapSets },
  plugins: [mapLabels],
  options: {
    events: [],
    layout: { padding: 0, autoPadding: false },
    scales: {
      x: { type: 'linear', min: -85.43, max: -32.6, display: false },
      y: { type: 'linear', min: -51.67, max: 8.56, display: false }
    }
  }
});

// ---------- monthly sales ----------
new Chart(document.getElementById('lineChart'), {
  type: 'line',
  data: {
    labels: months,
    datasets: [{
      data: monthlySales, borderColor: '#a3cde9', backgroundColor: '#a3cde9',
      borderWidth: 5.5, pointRadius: 6, pointBorderWidth: 0, tension: 0, spanGaps: false
    }]
  },
  options: {
    events: [],
    layout: { padding: 0, autoPadding: false },
    scales: {
      x: {
        offset: false,
        grid: { drawOnChartArea: false, color: GRID, lineWidth: 2, tickLength: 8 },
        border: { color: GRID, width: 2 },
        afterFit(s) { s.height = 158; s.paddingLeft = 0; s.paddingRight = 0; },
        ticks: {
          autoSkip: false, minRotation: 90, maxRotation: 90, padding: 9, color: TICK, labelOffset: 3,
          font: { size: 24.5, lineHeight: 0.8 },
          callback(v, i) {
            if (i === 0) return ['', months[0]];
            return i % 2 === 0 && i < 21 ? months[i] : '';
          }
        }
      },
      y: {
        min: 0, max: 1046.7,
        grid: { color: GRID, lineWidth: 2, drawTicks: false },
        border: { color: GRID, width: 2 },
        afterFit(s) { s.width = 120; s.paddingTop = 0; s.paddingBottom = 0; },
        afterBuildTicks(s) { s.ticks = [0,200,400,600,800,1000].map(v => ({ value: v })); },
        ticks: {
          padding: 16, color: TICK, font: { size: 25 }, labelOffset: 2.5,
          callback: v => (v === 0 ? ['0K', ''] : v + 'K')
        }
      }
    }
  }
});

// ---------- categories ----------
const cutLabel = {
  id: 'cutLabel',
  afterDraw(chart) {
    // the list is scrolled: the last row is cut at the bottom of the plot
    const { ctx, chartArea } = chart;
    ctx.save();
    ctx.fillStyle = '#fff';
    ctx.fillRect(0, chartArea.bottom + 1, chartArea.left - 2, 30);
    ctx.restore();
  }
};

new Chart(document.getElementById('barChart'), {
  type: 'bar',
  data: {
    datasets: [{
      data: numOrders.map((v, i) => ({ x: v, y: i })),
      backgroundColor: categoryColors, barThickness: 30
    }]
  },
  plugins: [cutLabel],
  options: {
    events: [],
    indexAxis: 'y',
    layout: { padding: 0, autoPadding: false },
    scales: {
      y: {
        type: 'linear', reverse: true, offset: false, min: -0.51, max: 14,
        grid: { display: false },
        border: { color: GRID, width: 2 },
        afterFit(s) { s.width = 264.5; s.paddingTop = 0; s.paddingBottom = 0; },
        afterBuildTicks(s) { s.ticks = categories.map((c, i) => ({ value: i })); },
        ticks: {
          autoSkip: false, padding: 3, color: TICK, labelOffset: 1.5,
          font: ctx => ({ size: ctx.index === 4 ? 23.8 : 25.4 }),
          callback: v => categories[v]
        }
      },
      x: {
        min: 0, max: 11600,
        grid: { color: GRID, lineWidth: 2, tickLength: 10 },
        border: { color: GRID, width: 2 },
        afterFit(s) { s.height = 98; s.paddingLeft = 0; s.paddingRight = 0; },
        afterBuildTicks(s) { s.ticks = [0,5000,10000].map(v => ({ value: v })); },
        title: { display: true, text: 'Num of Orders', color: '#333', font: { size: 24 }, padding: 0 },
        ticks: {
          padding: 8, color: TICK, font: { size: 24 }, maxRotation: 0,
          callback: v => (v === 0 ? '      0K' : v / 1000 + 'K')
        }
      }
    }
  }
});

// ---------- pies ----------
new Chart(document.getElementById('pieSpend'), {
  type: 'pie',
  data: { labels: spendingSegments, datasets: [{ data: spendingCounts, backgroundColor: ['#b9ddf1','#ffc685','#f7b04f'], borderWidth: 0 }] },
  options: { events: [], layout: { padding: 0 } }
});
new Chart(document.getElementById('pieFreq'), {
  type: 'pie',
  data: { labels: frequencySegments, datasets: [{ data: frequencyCounts, backgroundColor: ['#ffc685','#f7a84b','#b9ddf1'], borderWidth: 0 }] },
  options: { events: [], layout: { padding: 0 } }
});
</script>
</body>
</html>
